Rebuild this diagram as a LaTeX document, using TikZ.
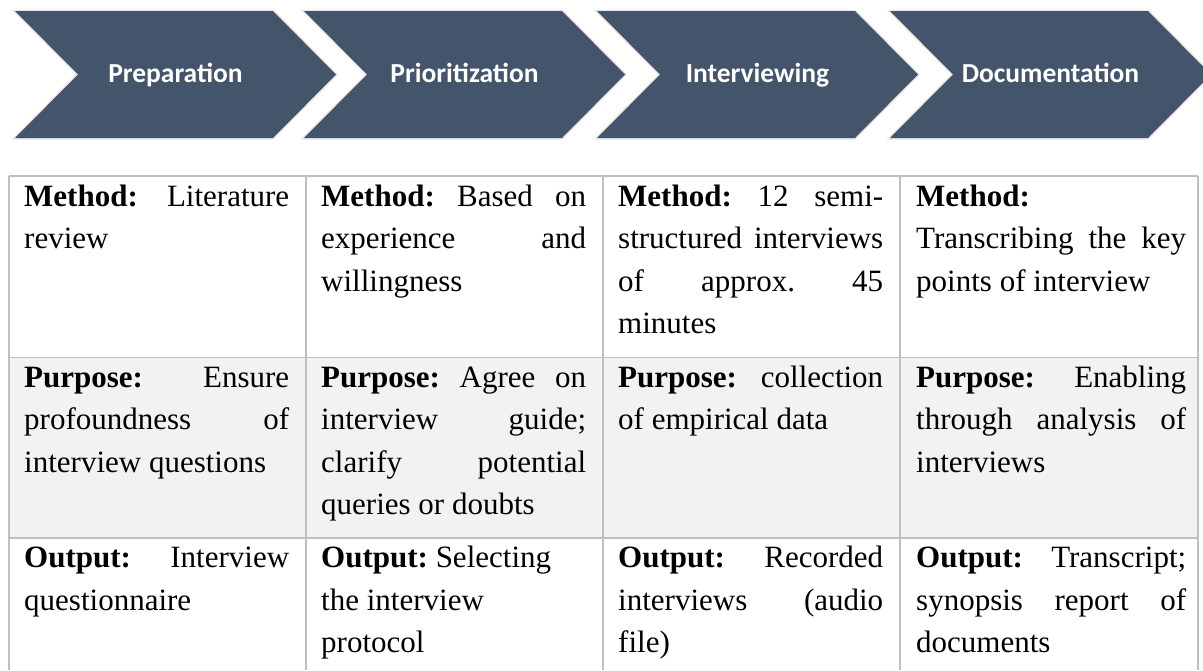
\documentclass[tikz,border=0pt]{standalone}
\usepackage{fontspec}
\setmainfont{Liberation Serif}
\newfontfamily\chevfont{Carlito}
\usetikzlibrary{positioning}
\definecolor{slate}{HTML}{44546A}
\definecolor{rulegray}{HTML}{BFBFBF}
\definecolor{rowgray}{HTML}{F2F2F2}
\tikzset{
  chev/.style={fill=slate, preaction={draw=black!9, line width=3pt}},
  chevlab/.style={anchor=base, text=white, inner sep=0pt, font=\chevfont\bfseries\fontsize{27.5}{30}\selectfont},
  cell/.style={anchor=north west, inner sep=0pt, text width=265pt, align=justify, font=\fontsize{31}{42.5}\selectfont, execute at begin node=\strut},
  lastcell/.style={cell, text width=270pt},
  tabline/.style={rulegray, line width=1.5pt}
}
\frenchspacing
\hbadness=10000

\begin{document}
\begin{tikzpicture}[x=1pt, y=-1pt]
    \clip (0,0) rectangle (1203,670);
    % Chevrons of the four phases
    \foreach \x/\lab/\nm in {15/Preparation/prep, 304/Prioritization/prio, 597/Interviewing/intv, 890/Documentation/docu} {
        \path[chev] (\x,11) -- ++(258,0) -- ++(63,63.5) -- ++(-63,63.5) -- ++(-258,0) -- ++(63,-63.5) -- cycle;
        \node[chevlab] (\nm) at (\x+160.5,82.7) {\lab};
    }
    % Shaded middle row
    \fill[rowgray] (9,357.5) rectangle (1198,538);
    % Table rules
    \foreach \y in {176,357.5,538} \draw[tabline] (9,\y) -- (1198,\y);
    \foreach \x in {9,306,603,900,1198} \draw[tabline] (\x,176) -- (\x,670);
    % Row: method
    \node[cell] (meth1) at (24,176.5) {\textbf{Method:} Literature\linebreak review};
    \node[cell] (meth2) at (321,176.5) {\textbf{Method:} Based on\linebreak experience and\linebreak willingness};
    \node[cell] (meth3) at (618,176.5) {\textbf{Method:} 12 semi-\linebreak structured interviews\linebreak of approx. 45\linebreak minutes};
    \node[lastcell] (meth4) at (916,176.5) {\textbf{Method:}\\ Transcribing the key\linebreak points of interview};
    % Row: purpose
    \node[cell] (purp1) at (24,357.5) {\textbf{Purpose:} Ensure\linebreak profoundness of\linebreak interview questions};
    \node[cell] (purp2) at (321,357.5) {\textbf{Purpose:} Agree on\linebreak interview guide;\linebreak clarify potential\linebreak queries or doubts};
    \node[cell] (purp3) at (618,357.5) {\textbf{Purpose:} collection\linebreak of empirical data};
    \node[lastcell] (purp4) at (916,357.5) {\textbf{Purpose:} Enabling\linebreak through analysis of\linebreak interviews};
    % Row: output
    \node[cell] (outp1) at (24,538) {\textbf{Output:} Interview\linebreak questionnaire};
    \node[cell] (outp2) at (321,538) {\textbf{Output:} Selecting\\ the interview\\ protocol};
    \node[cell] (outp3) at (618,538) {\textbf{Output:} Recorded\linebreak interviews (audio\linebreak file)};
    \node[lastcell] (outp4) at (916,538) {\textbf{Output:} Transcript;\linebreak synopsis report of\linebreak documents};
\end{tikzpicture}
\end{document}
